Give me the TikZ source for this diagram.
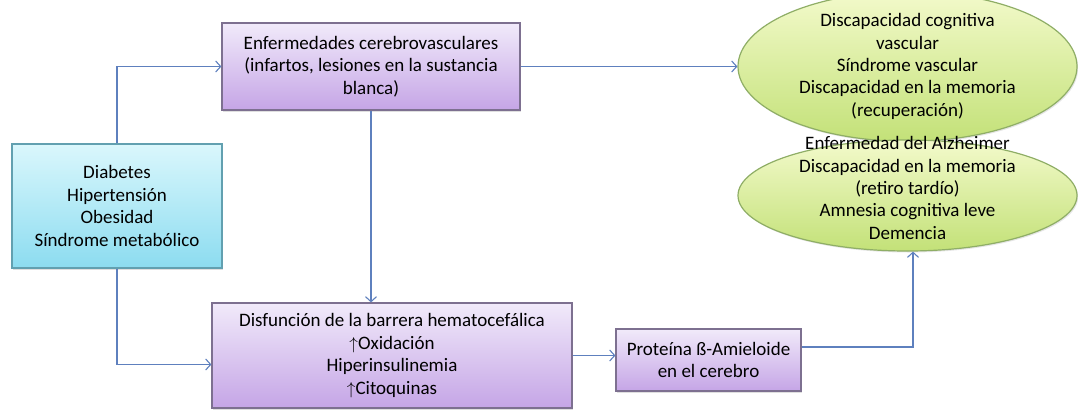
\documentclass[tikz,border=0pt]{standalone}
\usepackage{fontspec}
\setmainfont{Carlito}
\usepackage{tikz}
\usetikzlibrary{arrows.meta, shapes.geometric, shadows}

\definecolor{flecha}{HTML}{5E80BE}
\definecolor{lilatop}{HTML}{F1EAFA}
\definecolor{lilabot}{HTML}{C5A5E6}
\definecolor{lilaborde}{HTML}{7D7090}
\definecolor{celestetop}{HTML}{DAF7FC}
\definecolor{celestebot}{HTML}{8CDCF0}
\definecolor{celesteborde}{HTML}{62A0B0}
\definecolor{verdetop}{HTML}{F3FACB}
\definecolor{verdebot}{HTML}{C3E178}
\definecolor{verdeborde}{HTML}{8FAE66}

\tikzset{
    caja/.style={draw=lilaborde, top color=lilatop, bottom color=lilabot,
        line width=1.2pt, align=center, inner sep=0pt,
        drop shadow={opacity=0.25, shadow xshift=1.2pt, shadow yshift=-1.5pt}},
    factor/.style={caja, draw=celesteborde, top color=celestetop, bottom color=celestebot},
    efecto/.style={ellipse, draw=verdeborde, top color=verdetop, bottom color=verdebot,
        line width=1.2pt, align=center, inner sep=0pt,
        drop shadow={opacity=0.2, shadow xshift=1.2pt, shadow yshift=-1.5pt}},
    flujo/.style={draw=flecha, line width=1.1pt, -{Straight Barb[length=5pt,width=11pt]}}
}

\begin{document}
\begin{tikzpicture}[x=1pt, y=-1pt, font=\fontsize{19}{22.4}\selectfont]
    \useasboundingbox[fill=white] (0,0) rectangle (1078,410);

    \node[factor, minimum width=210pt, minimum height=124pt] (riesgo) at (117,206)
        {Diabetes\\ Hipertensión\\ Obesidad\\ Síndrome metabólico};
    \node[caja, minimum width=298pt, minimum height=87pt] (cerebro) at (371,66.5)
        {Enfermedades cerebrovasculares\\ (infartos, lesiones en la sustancia\\ blanca)};
    \node[caja, minimum width=360pt, minimum height=105pt] (barrera) at (392,355.5)
        {Disfunción de la barrera hematocefálica\\ $\uparrow$Oxidación\\ Hiperinsulinemia\\ $\uparrow$Citoquinas};
    \node[caja, minimum width=185pt, minimum height=62pt] (amiloide) at (708.5,360)
        {Proteína ß-Amieloide\\ en el cerebro};
    \node[efecto, minimum width=339pt, minimum height=123pt] (vascular) at (907.5,66.5)
        {Discapacidad cognitiva\\ vascular\\ Síndrome vascular\\ Discapacidad en la memoria\\ (recuperación)};
    \node[efecto, minimum width=339pt, minimum height=111pt] (alzheimer) at (907.5,195.5) {};
    \node[align=center, inner sep=0pt] (alzheimertexto) at (907.5,188)
        {Enfermedad del Alzheimer\\ Discapacidad en la memoria\\ (retiro tardío)\\ Amnesia cognitiva leve\\ Demencia};

    % conectores
    \draw[flujo] (riesgo.north) |- (cerebro.west);
    \draw[flujo] (riesgo.south) |- ([yshift=-9pt]barrera.west);
    \draw[flujo] (cerebro.east) -- (vascular.west);
    \draw[flujo] (cerebro.south) -- (cerebro.south |- barrera.north);
    \draw[flujo] (barrera.east) -- (barrera.east -| amiloide.west);
    \draw[flujo] ([yshift=13pt]amiloide.east) -| ([xshift=5.5pt]alzheimer.south);
\end{tikzpicture}
\end{document}
